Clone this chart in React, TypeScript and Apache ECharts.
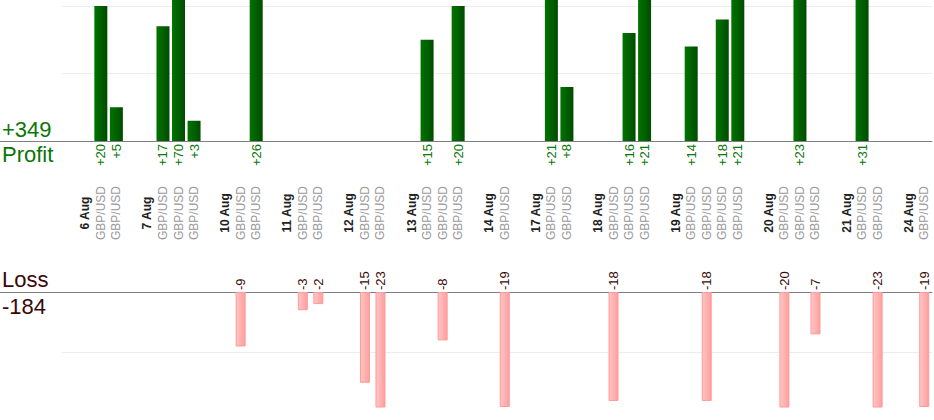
import React, { useEffect, useRef } from "react";
import * as echarts from "echarts";

const PAIR = "GBP/USD";
const days = ["6 Aug", "7 Aug", "10 Aug", "11 Aug", "12 Aug", "13 Aug", "14 Aug", "17 Aug", "18 Aug", "19 Aug", "20 Aug", "21 Aug", "24 Aug"];
const tradeResults = [
  [20, 5],
  [17, 70, 3],
  [-9, 26],
  [-3, -2],
  [-15, -23],
  [15, -8, 20],
  [-19],
  [21, 8],
  [-18, 16, 21],
  [14, -18, 18, 21],
  [-20, 23, -7],
  [31, -23],
  [-19],
];
const profitMax = 20;
const lossMax = 19;
const gridStep = 10;

const FONT = "'Liberation Sans', Arial, Helvetica, sans-serif";
const GREEN = "#0a760a";
const DARK_RED = "#3a0808";

// build slots: leading empty slot, then each day label followed by its trades, separated by empty slots
const slots: string[] = [""];
const profitData: (number | null)[] = [null];
const lossData: (number | null)[] = [null];
days.forEach((d, i) => {
  if (i > 0) {
    slots.push("");
    profitData.push(null);
    lossData.push(null);
  }
  slots.push(d);
  profitData.push(null);
  lossData.push(null);
  tradeResults[i].forEach((v) => {
    slots.push(PAIR);
    profitData.push(v > 0 ? v : null);
    lossData.push(v < 0 ? v : null);
  });
});
const totalProfit = profitData.reduce((a: number, v) => a + (v || 0), 0);
const totalLoss = lossData.reduce((a: number, v) => a + (v || 0), 0);

export default function App() {
  const ref = useRef<HTMLDivElement>(null);
  useEffect(() => {
    if (!ref.current) return;
    const chart = echarts.init(ref.current, undefined, { renderer: "svg" });
    const GRID_LEFT = 62;
    const TOP_AXIS_Y = 141;
    const BOTTOM_AXIS_Y = 292;
    chart.setOption({
      animation: false,
      textStyle: { fontFamily: FONT },
      grid: [
        { left: GRID_LEFT, right: 2, top: 6, height: TOP_AXIS_Y - 6 },
        { left: GRID_LEFT, right: 2, top: BOTTOM_AXIS_Y, height: 115 },
      ],
      xAxis: [
        {
          gridIndex: 0,
          type: "category",
          data: slots,
          axisLine: { lineStyle: { color: "#808080", width: 1 } },
          axisTick: { show: false },
          axisLabel: {
            interval: 0,
            rotate: 90,
            margin: 72,
            align: "center",
            verticalAlign: "middle",
            formatter: (v: string) => (v === "" ? "" : v === PAIR ? `{p|${v}}` : `{d|${v}}`),
            rich: {
              p: { fontSize: 12, color: "#999999", fontFamily: FONT },
              d: { fontSize: 12, fontWeight: "bold", color: "#222222", fontFamily: FONT },
            },
          },
        },
        {
          gridIndex: 1,
          type: "category",
          data: slots,
          position: "top",
          axisLine: { onZero: false, lineStyle: { color: "#808080", width: 1 } },
          axisTick: { show: false },
          axisLabel: { show: false },
        },
      ],
      yAxis: [
        {
          gridIndex: 0,
          type: "value",
          min: 0,
          max: profitMax,
          interval: gridStep,
          axisLine: { show: false },
          axisTick: { show: false },
          axisLabel: { show: false },
          splitLine: { lineStyle: { color: "#ececec" } },
        },
        {
          gridIndex: 1,
          type: "value",
          min: 0,
          max: lossMax,
          interval: gridStep,
          inverse: true,
          axisLine: { show: false },
          axisTick: { show: false },
          axisLabel: { show: false },
          splitLine: { showMaxLine: false, lineStyle: { color: "#ececec" } },
        },
      ],
      series: [
        {
          type: "bar",
          xAxisIndex: 0,
          yAxisIndex: 0,
          data: profitData,
          barWidth: 13,
          clip: false,
          itemStyle: {
            color: new echarts.graphic.LinearGradient(0, 0, 1, 0, [
              { offset: 0, color: "#007400" },
              { offset: 1, color: "#004c00" },
            ]),
          },
          label: {
            show: true,
            position: "bottom",
            distance: 3,
            rotate: 90,
            align: "right",
            verticalAlign: "middle",
            fontSize: 13,
            color: GREEN,
            fontFamily: FONT,
            formatter: (p: any) => "+" + p.value,
          },
        },
        {
          type: "bar",
          xAxisIndex: 1,
          yAxisIndex: 1,
          data: lossData.map((v) => (v == null ? null : -v)),
          barWidth: 10,
          itemStyle: {
            color: new echarts.graphic.LinearGradient(0, 0, 1, 0, [
              { offset: 0, color: "#ffc6c6" },
              { offset: 1, color: "#ff9e9e" },
            ]),
            borderColor: "#ff9a9a",
            borderWidth: 1,
          },
          label: {
            show: true,
            position: "top",
            distance: 2,
            rotate: 90,
            align: "left",
            verticalAlign: "middle",
            fontSize: 13,
            color: DARK_RED,
            fontFamily: FONT,
            formatter: (p: any) => String(lossData[p.dataIndex]),
          },
        },
      ],
      graphic: [
        {
          type: "line",
          shape: { x1: 0, y1: TOP_AXIS_Y + 0.5, x2: GRID_LEFT, y2: TOP_AXIS_Y + 0.5 },
          style: { stroke: "#808080", lineWidth: 1 },
        },
        {
          type: "line",
          shape: { x1: 0, y1: BOTTOM_AXIS_Y + 0.5, x2: GRID_LEFT, y2: BOTTOM_AXIS_Y + 0.5 },
          style: { stroke: "#808080", lineWidth: 1 },
        },
        {
          type: "text",
          left: 2,
          top: 118,
          style: { text: "+" + totalProfit, fontSize: 22, fill: GREEN, fontFamily: FONT },
        },
        {
          type: "text",
          left: 2,
          top: 143,
          style: { text: "Profit", fontSize: 22, fill: GREEN, fontFamily: FONT },
        },
        {
          type: "text",
          left: 2,
          top: 268,
          style: { text: "Loss", fontSize: 22, fill: DARK_RED, fontFamily: FONT },
        },
        {
          type: "text",
          left: 2,
          top: 295,
          style: { text: String(totalLoss), fontSize: 22, fill: DARK_RED, fontFamily: FONT },
        },
      ],
    });
    return () => chart.dispose();
  }, []);
  return (
    <div
      ref={ref}
      style={{ position: "fixed", left: 0, top: 0, width: 934, height: 420, background: "#fff" }}
    />
  );
}
